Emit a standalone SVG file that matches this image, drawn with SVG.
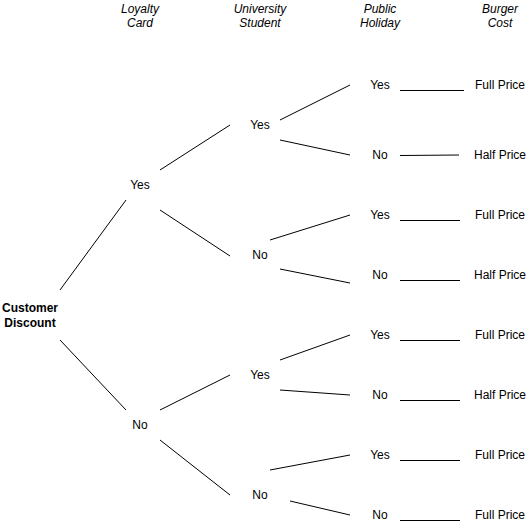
<svg xmlns="http://www.w3.org/2000/svg" width="530" height="530" viewBox="0 0 530 530">
<style>
text{font-family:"Liberation Sans",Arial,sans-serif;font-size:12px;fill:#000;text-anchor:middle}
.h{font-style:italic}
.b{font-weight:bold}
#connectors line{stroke:#000;stroke-width:1;fill:none}
</style>
<rect width="530" height="530" fill="#fff"/>
<g id="headers">
<text class="h" x="140" y="12.5">Loyalty</text><text class="h" x="140" y="27">Card</text>
<text class="h" x="260" y="12.5">University</text><text class="h" x="260" y="27">Student</text>
<text class="h" x="380" y="12.5">Public</text><text class="h" x="380" y="27">Holiday</text>
<text class="h" x="500" y="12.5">Burger</text><text class="h" x="500" y="27">Cost</text>
</g>
<g id="connectors">
<line x1="60" y1="290" x2="126" y2="200"/>
<line x1="60" y1="340" x2="126" y2="410"/>
<line x1="160" y1="170" x2="230" y2="125"/>
<line x1="160" y1="210" x2="230" y2="256"/>
<line x1="160" y1="410" x2="230" y2="375"/>
<line x1="160" y1="440" x2="230" y2="495"/>
<line x1="280" y1="120" x2="350" y2="85"/>
<line x1="280" y1="140" x2="350" y2="155"/>
<line x1="270" y1="240" x2="350" y2="215"/>
<line x1="280" y1="269" x2="350" y2="283"/>
<line x1="280" y1="360" x2="350" y2="335"/>
<line x1="280" y1="390" x2="350" y2="395"/>
<line x1="270" y1="470" x2="350" y2="455"/>
<line x1="290" y1="501" x2="350" y2="515"/>
<line x1="400" y1="90.5" x2="464" y2="90.5"/>
<line x1="400" y1="155.5" x2="459" y2="155"/>
<line x1="400" y1="220.5" x2="460" y2="220.5"/>
<line x1="400" y1="280.5" x2="460" y2="280.5"/>
<line x1="400" y1="340.5" x2="460" y2="340.5"/>
<line x1="400" y1="400.5" x2="460" y2="400.5"/>
<line x1="400" y1="460.5" x2="460" y2="460.5"/>
<line x1="400" y1="520.5" x2="460" y2="520.5"/>
</g>
<g id="root"><text class="b" x="30" y="312">Customer</text><text class="b" x="30" y="327">Discount</text></g>
<g id="l1-yes"><text x="140" y="189">Yes</text></g>
<g id="l1-no"><text x="140" y="429">No</text></g>
<g id="l2-yes-a"><text x="260" y="129">Yes</text></g>
<g id="l2-no-a"><text x="260" y="259">No</text></g>
<g id="l2-yes-b"><text x="260" y="379">Yes</text></g>
<g id="l2-no-b"><text x="260" y="499">No</text></g>
<g id="l3-1"><text x="380" y="89">Yes</text></g>
<g id="l3-2"><text x="380" y="159">No</text></g>
<g id="l3-3"><text x="380" y="219">Yes</text></g>
<g id="l3-4"><text x="380" y="279">No</text></g>
<g id="l3-5"><text x="380" y="339">Yes</text></g>
<g id="l3-6"><text x="380" y="399">No</text></g>
<g id="l3-7"><text x="380" y="459">Yes</text></g>
<g id="l3-8"><text x="380" y="519">No</text></g>
<g id="c1"><text x="500" y="89">Full Price</text></g>
<g id="c2"><text x="500" y="159">Half Price</text></g>
<g id="c3"><text x="500" y="219">Full Price</text></g>
<g id="c4"><text x="500" y="279">Half Price</text></g>
<g id="c5"><text x="500" y="339">Full Price</text></g>
<g id="c6"><text x="500" y="399">Half Price</text></g>
<g id="c7"><text x="500" y="459">Full Price</text></g>
<g id="c8"><text x="500" y="519">Full Price</text></g>
</svg>
